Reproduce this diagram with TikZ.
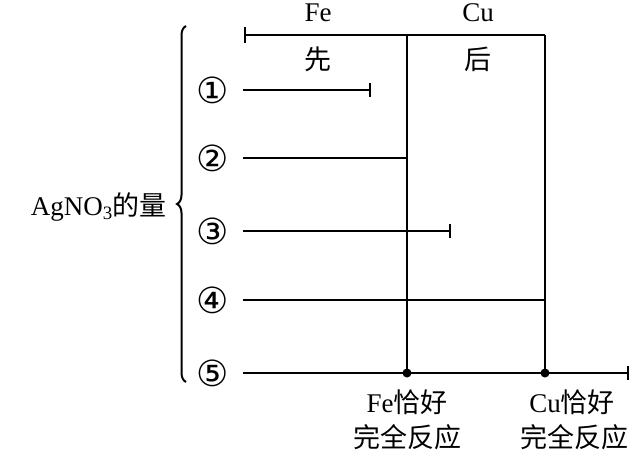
\documentclass[tikz,border=0pt]{standalone}
\usepackage{fontspec}
\setmainfont{Liberation Serif}
\newfontfamily\cjk{Noto Sans CJK SC}
\newfontfamily\sym{DejaVu Sans}
\usetikzlibrary{decorations.pathreplacing}
\begin{document}
\begin{tikzpicture}[x=1pt,y=-1pt,line width=2.2pt,
  lbl/.style={font=\fontsize{27}{29}\selectfont,inner sep=0pt},
  num/.style={font=\fontsize{36}{38}\selectfont\sym,inner sep=0pt},
  dot/.style={circle,fill,inner sep=0pt,minimum size=9pt}]
\useasboundingbox (0,0) rectangle (640,455);
\coordinate (t0) at (245,35); \coordinate (t1) at (407,35); \coordinate (t2) at (545,35);
\draw (t0) -- (t2);
\draw (245,27) -- (245,43);
\node[dot] (d1) at (407,373) {};
\node[dot] (d2) at (545,373) {};
\draw (t1) -- (d1.center);
\draw (t2) -- (d2.center);
\node[lbl] (fe) at (318,13) {Fe};
\node[lbl] (cu) at (478,13) {Cu};
\node[lbl] (xian) at (318,59) {\cjk 先};
\node[lbl] (hou) at (478,59) {\cjk 后};
\foreach \y/\n in {90/①,158/②,231/③,300/④,373/⑤} \node[num] (n\y) at (213,\y) {\n};
\coordinate (a1) at (243,90); \coordinate (b1) at (370,90);
\draw (a1) -- (b1); \draw (370,83) -- (370,97);
\coordinate (a2) at (243,158); \coordinate (b2) at (407,158); \draw (a2) -- (b2);
\coordinate (a3) at (243,231); \coordinate (b3) at (450,231);
\draw (a3) -- (b3); \draw (450,224) -- (450,238);
\coordinate (a4) at (243,300); \coordinate (b4) at (545,300); \draw (a4) -- (b4);
\coordinate (a5) at (243,373); \coordinate (b5) at (628,373); \draw (a5) -- (b5);
\draw (628,366) -- (628,380);
\draw[line width=2pt,decoration={brace,amplitude=9pt},decorate] (186,382) -- (186,26);
\node[lbl,anchor=east] (ag) at (168,207) {AgNO\textsubscript{3}\cjk 的量};
\node[lbl] (f1) at (407,402) {Fe\cjk 恰好};
\node[lbl] (f2) at (407,437) {\cjk 完全反应};
\node[lbl] (c1) at (572,402) {Cu\cjk 恰好};
\node[lbl] (c2) at (574,437) {\cjk 完全反应};
\end{tikzpicture}
\end{document}
